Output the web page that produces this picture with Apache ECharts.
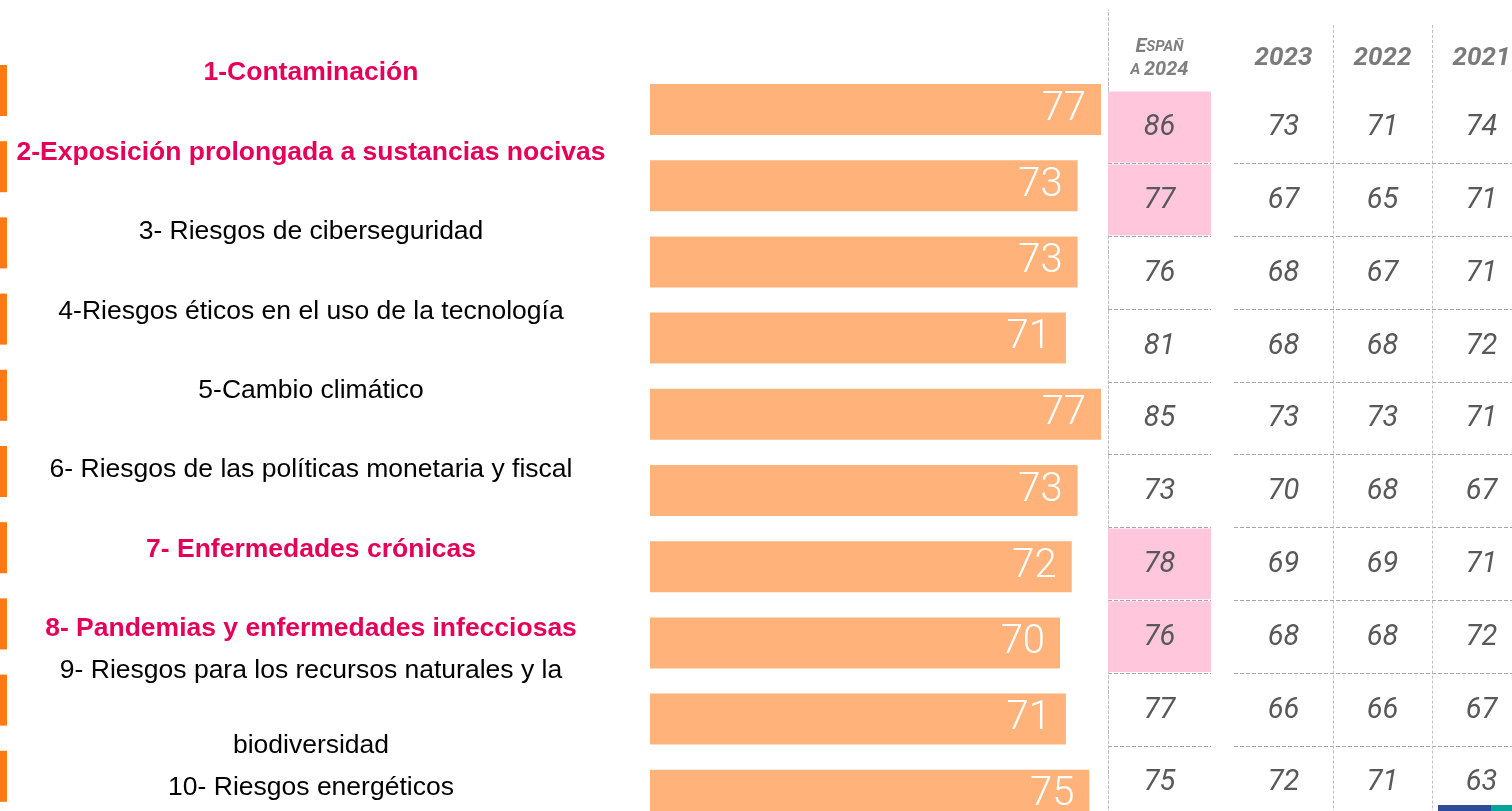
<!DOCTYPE html>
<html>
<head>
<meta charset="utf-8">
<script src="https://cdn.jsdelivr.net/npm/echarts@6/dist/echarts.min.js"></script>
<style>
  html, body { margin: 0; padding: 0; background: #fff; overflow: hidden; }
  /* the chart runs past the bottom and right edge of the window, like the original */
  #main { width: 1560px; height: 860px; }
</style>
</head>
<body>
<div id="main"></div>
<script>
// riesgos (filas)
var categories = [
    '1-Contaminación',
    '2-Exposición prolongada a sustancias nocivas',
    '3- Riesgos de ciberseguridad',
    '4-Riesgos éticos en el uso de la tecnología',
    '5-Cambio climático',
    '6- Riesgos de las políticas monetaria y fiscal',
    '7- Enfermedades crónicas',
    '8- Pandemias y enfermedades infecciosas',
    '9- Riesgos para los recursos naturales y la\nbiodiversidad',
    '10- Riesgos energéticos'
];
// filas destacadas (rosa)
var destacado = [1, 1, 0, 0, 0, 0, 1, 1, 0, 0];
// barras naranjas
var global2024 = [77, 73, 73, 71, 77, 73, 72, 70, 71, 75];
// tabla
var espana2024 = [86, 77, 76, 81, 85, 73, 78, 76, 77, 75];
var anios = ['2023', '2022', '2021'];
var v2023 = [73, 67, 68, 68, 73, 70, 69, 68, 66, 72];
var v2022 = [71, 65, 67, 68, 73, 68, 69, 68, 66, 71];
var v2021 = [74, 71, 71, 72, 71, 67, 71, 72, 67, 63];

var myChart = echarts.init(document.getElementById('main'));

var dashed = { type: [4, 2], color: '#a6a6a6', width: 1 };
var vdashed = { type: [3, 2], color: '#c0c0c0', width: 1 };
var numFont = 'Roboto';
var numColor = '#595959';

// celdas de la tabla de años
var celdasAnios = [];
[v2023, v2022, v2021].forEach(function (serie, c) {
    serie.forEach(function (v, r) { celdasAnios.push([c, r, v]); });
});

function celda(params, api) {
    var p = api.coord([api.value(0), api.value(1)]);
    var s = api.size([1, 1]);
    var children = [];
    if (api.value(3)) {
        children.push({
            type: 'rect',
            shape: { x: p[0] - s[0] / 2, y: p[1] - s[1] / 2 + 1, width: s[0], height: s[1] - 2 },
            style: { fill: '#ffc6dc' }
        });
    }
    children.push({
        type: 'text',
        style: {
            x: p[0], y: p[1] + 1, text: String(api.value(2)),
            textAlign: 'center', textVerticalAlign: 'middle',
            fontFamily: numFont, fontSize: 29, fontStyle: 'italic', fill: numColor
        }
    });
    return { type: 'group', children: children };
}

var option = {
    backgroundColor: '#fff',
    animation: false,
    grid: [
        // 0 etiquetas izquierda
        { left: 311, top: 33.3, width: 1, height: 794 },
        // 1 marcas naranjas
        { left: 0, top: 52.4, width: 7, height: 762 },
        // 2 barras
        { left: 650, top: 71.4, width: 468.6, height: 762 },
        // 3 tabla España
        { left: 1108, top: 90.6, width: 103, height: 728 },
        // 4 tabla años
        { left: 1234, top: 90.6, width: 297, height: 728 },
        // 5 cabecera España (linea)
        { left: 1108, top: 10, width: 103, height: 80.6 },
        // 6 cabecera años (lineas)
        { left: 1234, top: 25, width: 297, height: 65.6 }
    ],
    xAxis: [
        { gridIndex: 0, type: 'value', show: false },
        { gridIndex: 1, type: 'category', data: ['m'], show: false },
        { gridIndex: 2, type: 'value', min: 0, max: 80, show: false },
        {
            gridIndex: 3, type: 'category', position: 'top', data: ['España 2024'],
            axisLine: { show: false }, axisTick: { show: false },
            axisLabel: {
                margin: 9,
                formatter: function () { return '{b|E}{s|SPAÑ}\n{s|A }{b|2024}'; },
                rich: {
                    b: { fontFamily: numFont, fontSize: 20, fontWeight: 'bold', fontStyle: 'italic', color: '#7f7f7f', lineHeight: 23 },
                    s: { fontFamily: numFont, fontSize: 15, fontWeight: 'bold', fontStyle: 'italic', color: '#7f7f7f', lineHeight: 23 }
                }
            }
        },
        {
            gridIndex: 4, type: 'category', position: 'top', data: anios,
            axisLine: { show: false }, axisTick: { show: false },
            axisLabel: {
                margin: 19, fontFamily: numFont, fontSize: 26, fontWeight: 'bold',
                fontStyle: 'italic', color: '#7a7a7a'
            },
            splitLine: { show: true, showMinLine: false, lineStyle: vdashed }
        },
        { gridIndex: 5, type: 'category', data: [''], show: false },
        {
            gridIndex: 6, type: 'category', data: anios,
            axisLine: { show: false }, axisTick: { show: false }, axisLabel: { show: false },
            splitLine: { show: true, showMinLine: false, lineStyle: vdashed }
        }
    ],
    yAxis: [
        {
            gridIndex: 0, type: 'category', inverse: true, data: categories,
            axisLine: { show: false }, axisTick: { show: false },
            axisLabel: {
                interval: 0, margin: 0, align: 'center',
                formatter: function (val, i) {
                    return destacado[i] ? '{d|' + val + '}' : '{n|' + val + '}';
                },
                rich: {
                    n: { fontFamily: 'Liberation Sans', fontSize: 26.5, color: '#000', lineHeight: 75 },
                    d: { fontFamily: 'Liberation Sans', fontSize: 26.5, fontWeight: 'bold', color: '#e5005a', lineHeight: 75 }
                }
            }
        },
        { gridIndex: 1, type: 'category', inverse: true, data: categories, show: false },
        { gridIndex: 2, type: 'category', inverse: true, data: categories, show: false },
        {
            gridIndex: 3, type: 'category', inverse: true, data: categories,
            axisLine: { show: true, lineStyle: vdashed },
            axisTick: { show: false }, axisLabel: { show: false },
            splitLine: { show: true, showMinLine: false, lineStyle: dashed }
        },
        {
            gridIndex: 4, type: 'category', inverse: true, data: categories,
            axisLine: { show: false }, axisTick: { show: false }, axisLabel: { show: false },
            splitLine: { show: true, showMinLine: false, lineStyle: dashed }
        },
        {
            gridIndex: 5, type: 'category', data: [''],
            axisLine: { show: true, lineStyle: vdashed },
            axisTick: { show: false }, axisLabel: { show: false }
        },
        { gridIndex: 6, type: 'category', data: [''], show: false }
    ],
    series: [
        {
            // marcas naranjas a la izquierda
            type: 'custom', xAxisIndex: 1, yAxisIndex: 1,
            data: categories.map(function (c, i) { return [0, i]; }),
            renderItem: function (params, api) {
                var p = api.coord([api.value(0), api.value(1)]);
                var s = api.size([1, 1]);
                var h = s[1] * 0.67;
                return {
                    type: 'rect',
                    shape: { x: p[0] - s[0] / 2, y: p[1] - h / 2, width: s[0], height: h },
                    style: { fill: '#ff7a14' }
                };
            }
        },
        {
            type: 'bar', xAxisIndex: 2, yAxisIndex: 2,
            data: global2024,
            barWidth: 51,
            itemStyle: { color: '#ffb37b' },
            label: {
                show: true, position: 'insideRight', distance: 15,
                color: '#fff', fontFamily: numFont, fontWeight: 300, fontSize: 40
            }
        },
        {
            // columna España
            type: 'custom', xAxisIndex: 3, yAxisIndex: 3,
            data: espana2024.map(function (v, i) { return [0, i, v, destacado[i]]; }),
            renderItem: celda
        },
        {
            // columnas 2023-2021
            type: 'custom', xAxisIndex: 4, yAxisIndex: 4,
            data: celdasAnios.map(function (d) { return [d[0], d[1], d[2], 0]; }),
            renderItem: celda
        }
    ],
    graphic: [
        { type: 'rect', shape: { x: 1438, y: 805, width: 53, height: 6 }, style: { fill: '#2e4a9a' } },
        { type: 'rect', shape: { x: 1491, y: 805, width: 21, height: 6 }, style: { fill: '#0aa39a' } }
    ]
};

myChart.setOption(option);
</script>
</body>
</html>
